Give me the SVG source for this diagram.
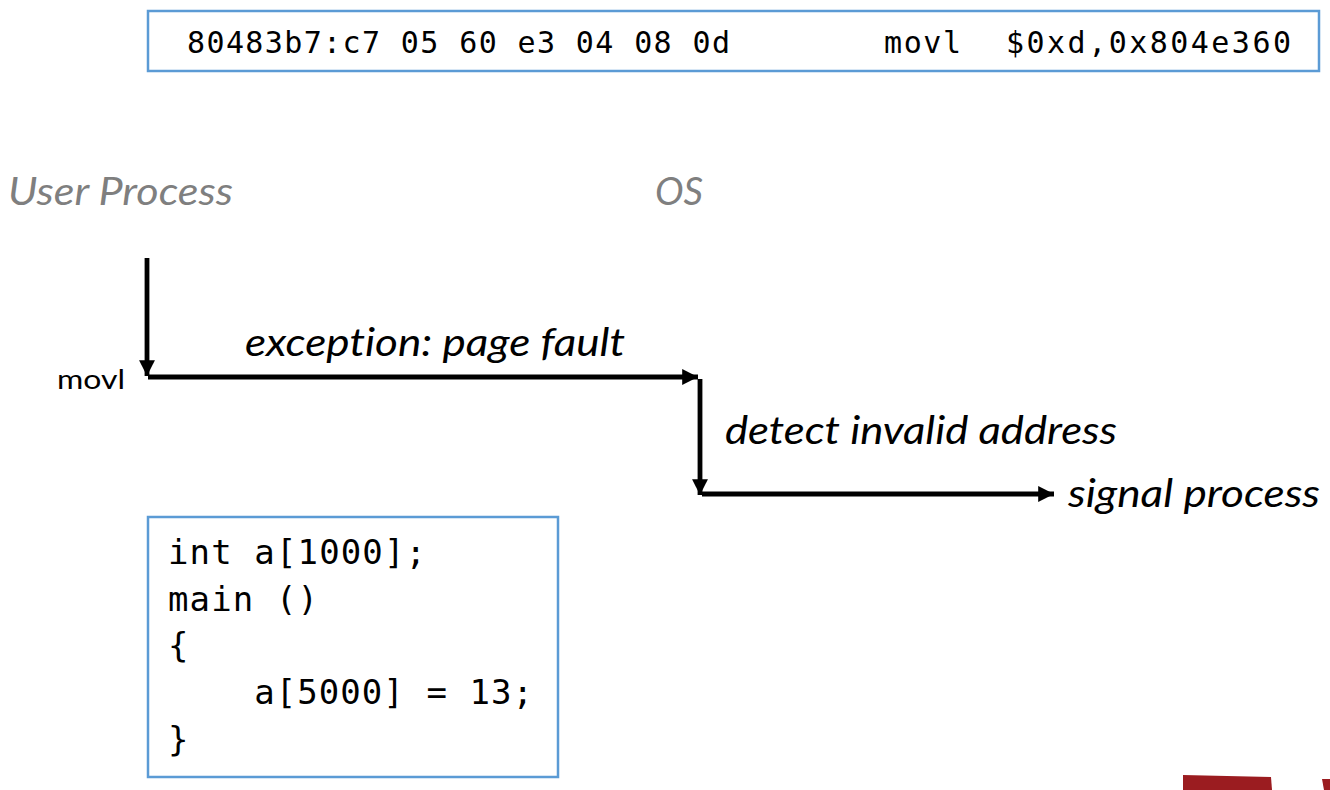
<svg xmlns="http://www.w3.org/2000/svg" width="1330" height="790" viewBox="0 0 1330 790">
  <style>
    .box { fill: #ffffff; stroke: #5B9BD5; stroke-width: 2.5; }
    .mono { font-family: "DejaVu Sans Mono", "Liberation Mono", monospace; fill: #000000; }
    .lbl { font-family: Lato, "Open Sans", "Liberation Sans", sans-serif; font-style: italic; fill: #000000; font-variant-ligatures: none; }
    .hdr { font-family: Lato, "Open Sans", "Liberation Sans", sans-serif; font-style: italic; fill: #7F7F7F; font-variant-ligatures: none; }
    .plain { font-family: Lato, "Liberation Sans", sans-serif; fill: #000000; }
    .conn { stroke: #000000; stroke-width: 4.8; fill: none; }
  </style>
  <defs>
    <marker id="ah" viewBox="0 0 10 10" refX="10" refY="5" markerWidth="3.3" markerHeight="3.3" orient="auto" markerUnits="strokeWidth">
      <path d="M0,0 L10,5 L0,10 Z" fill="#000000"/>
    </marker>
  </defs>
  <rect width="1330" height="790" fill="#ffffff"/>

  <g id="instruction">
    <rect class="box" x="148" y="11" width="1171" height="60"/>
    <text class="mono" x="187" y="53" font-size="30" textLength="543" lengthAdjust="spacing">80483b7:c7 05 60 e3 04 08 0d</text>
    <text class="mono" x="884" y="53" font-size="30" textLength="77" lengthAdjust="spacing">movl</text>
    <text class="mono" x="1006" y="53" font-size="30" textLength="285" lengthAdjust="spacing">$0xd,0x804e360</text>
  </g>

  <g id="user-process-label">
    <text class="hdr" x="8" y="205" font-size="38" textLength="225" lengthAdjust="spacingAndGlyphs">User Process</text>
  </g>
  <g id="os-label">
    <text class="hdr" x="655" y="205" font-size="38" textLength="48" lengthAdjust="spacingAndGlyphs">OS</text>
  </g>

  <g id="movl-label">
    <text class="plain" x="57" y="389" font-size="27" textLength="68" lengthAdjust="spacingAndGlyphs">movl</text>
  </g>
  <g id="exception-label">
    <text class="lbl" x="245" y="356" font-size="38" textLength="380" lengthAdjust="spacingAndGlyphs">exception: page fault</text>
  </g>
  <g id="detect-label">
    <text class="lbl" x="725" y="444" font-size="38" textLength="392" lengthAdjust="spacingAndGlyphs">detect invalid address</text>
  </g>
  <g id="signal-label">
    <text class="lbl" x="1068" y="507" font-size="38" textLength="252" lengthAdjust="spacingAndGlyphs">signal process</text>
  </g>

  <g id="connectors">
    <line class="conn" x1="147" y1="258" x2="147" y2="376" marker-end="url(#ah)"/>
    <line class="conn" x1="148" y1="377" x2="698" y2="377" marker-end="url(#ah)"/>
    <line class="conn" x1="700" y1="379" x2="700" y2="495" marker-end="url(#ah)"/>
    <line class="conn" x1="702" y1="494" x2="1054" y2="494" marker-end="url(#ah)"/>
  </g>

  <g id="code">
    <rect class="box" x="148" y="517" width="410" height="260"/>
    <text class="mono" x="168" y="564" font-size="34" textLength="258" lengthAdjust="spacing">int a[1000];</text>
    <text class="mono" x="168" y="611" font-size="34" textLength="150" lengthAdjust="spacing">main ()</text>
    <text class="mono" x="168" y="657" font-size="34">{</text>
    <text class="mono" x="168" y="704" font-size="34" xml:space="preserve" textLength="365" lengthAdjust="spacing">    a[5000] = 13;</text>
    <text class="mono" x="168" y="751" font-size="34">}</text>
  </g>

  <g id="logo-fragment" fill="#9B1C20">
    <polygon points="1183,775 1271,777 1272,790 1183,790"/>
    <polygon points="1322,779 1330,779 1330,790 1324,790"/>
  </g>
</svg>
